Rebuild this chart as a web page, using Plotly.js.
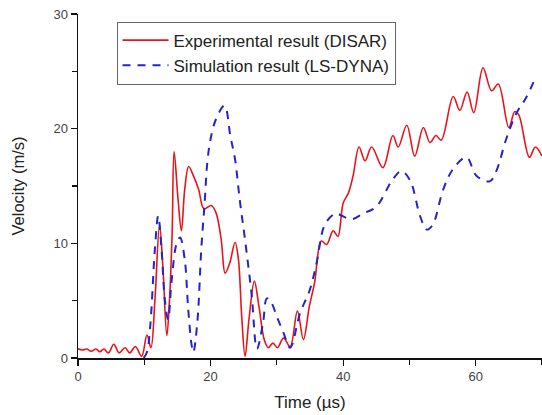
<!DOCTYPE html>
<html>
<head>
<meta charset="utf-8">
<script src="https://cdn.plot.ly/plotly-3.0.1.min.js"></script>
<style>html,body{margin:0;padding:0;background:#fff;}#chart{width:542px;height:415px;}</style>
</head>
<body>
<div id="chart"></div>
<script>
// Experimental result (DISAR)
var expTime = [0,0.7,1.3,2.0,2.7,3.3,3.9,4.6,5.4,6.2,7.1,7.8,8.65,9.6,10.4,11.0,11.6,12.3,12.8,13.4,13.8,14.2,14.5,15.1,15.6,16.1,16.7,17.4,18.2,19.0,20.1,20.8,21.6,22.2,22.9,23.7,24.2,24.7,25.2,25.8,26.6,27.3,28.1,28.7,29.4,30.1,31.0,32.0,33.1,34.0,34.9,35.7,36.7,37.5,38.5,39.2,40.0,40.8,41.5,42.4,43.3,44.3,46.0,47.5,48.3,49.6,50.8,52.1,53.1,54.0,54.8,56.6,57.6,58.7,59.7,61.1,62.4,63.4,65.0,65.9,66.5,68.1,69.0,70.0];
var expVel  = [0.8,0.7,0.78,0.6,0.78,0.55,0.78,0.45,1.2,0.45,0.9,0.45,1.0,0.15,2.0,0.9,5.0,11.6,8.0,1.95,5.0,10.9,18.0,13.8,11.1,14.7,16.7,15.9,14.7,13.0,13.3,12.7,10.35,7.4,8.3,10.1,8.6,3.6,0.15,3.4,6.7,4.5,1.6,0.9,1.3,0.9,1.75,1.0,4.1,1.6,4.5,6.6,10.2,9.9,11.1,10.6,13.5,14.4,15.9,18.4,17.2,18.4,16.6,19.4,18.4,20.3,17.6,20.1,18.8,19.4,19.0,22.8,21.6,23.2,21.4,25.3,23.3,23.9,20.1,21.5,21.2,17.5,18.4,17.6];

// Simulation result (LS-DYNA)
var simTime = [9.9,10.4,10.9,11.6,12.1,12.6,13.1,13.6,14.1,14.9,15.4,16.1,16.6,17.1,17.4,18.0,18.6,19.1,19.5,20.0,20.8,22.1,23.0,23.7,24.4,25.2,26.2,27.0,27.9,28.5,29.2,30.0,31.0,32.0,33.5,35.0,36.0,37.2,38.5,39.0,41.2,43.0,45.0,47.5,48.8,50.1,51.6,52.6,53.5,55.1,56.6,58.6,60.1,62.1,63.1,64.6,66.1,67.6,68.9];
var simVel  = [0,0.5,2.8,9.5,12.4,9.5,5.1,3.35,6.6,10.05,10.5,8.6,4.5,1.3,0.5,3.1,9.5,13.5,17.0,19.1,20.8,22.0,19.3,17.3,13.8,10.3,5.5,0.8,3.0,5.2,4.8,3.6,2.2,0.9,3.9,6.0,8.3,11.6,12.5,12.6,12.1,12.6,13.2,15.6,16.3,15.5,12.4,11.2,11.6,14.7,16.5,17.5,15.9,15.4,16.3,19.1,21.3,22.7,24.3];

var seriesNames = ['Experimental result (DISAR)', 'Simulation result (LS-DYNA)'];
var xTitle = 'Time (\u00b5s)';
var yTitle = 'Velocity (m/s)';

var traces = [
  {x: expTime, y: expVel, name: seriesNames[0], type: 'scatter', mode: 'lines',
   line: {color: '#e8141c', width: 1.6, shape: 'spline', smoothing: 1}},
  {x: simTime, y: simVel, name: seriesNames[1], type: 'scatter', mode: 'lines',
   line: {color: '#2424c8', width: 2, dash: '8px,7px', shape: 'spline', smoothing: 1}}
];

var fam = 'Liberation Sans, Arial, sans-serif';
var axisCommon = {
  showgrid: false, zeroline: false, showline: true, linecolor: '#111', linewidth: 1.5,
  ticks: 'outside', ticklen: 6, tickwidth: 1.2, tickcolor: '#111',
  tickfont: {family: fam, size: 13, color: '#444'}
};

var layout = {
  width: 542, height: 415,
  margin: {l: 78, r: 0, t: 14, b: 57},
  paper_bgcolor: '#fff', plot_bgcolor: '#fff',
  showlegend: true,
  legend: {x: 0.083, y: 0.978, xanchor: 'left', yanchor: 'top',
           bgcolor: '#fff', bordercolor: '#666', borderwidth: 1,
           itemwidth: 46,
           font: {family: fam, size: 17, color: '#222'},
           tracegroupgap: 0},
  xaxis: Object.assign({}, axisCommon, {
    range: [0, 70], dtick: 20, tick0: 0,
    minor: {dtick: 10, ticks: 'outside', ticklen: 5, tickcolor: '#111', tickwidth: 1.2},
    title: {text: xTitle, font: {family: fam, size: 17, color: '#222'}, standoff: 13}
  }),
  yaxis: Object.assign({}, axisCommon, {
    range: [0, 30], dtick: 10, tick0: 0,
    minor: {dtick: 5, ticks: 'outside', ticklen: 5, tickcolor: '#111', tickwidth: 1.2},
    title: {text: yTitle, font: {family: fam, size: 16.5, color: '#222'}, standoff: 24}
  })
};

Plotly.newPlot('chart', traces, layout, {displayModeBar: false, staticPlot: true});
</script>
</body>
</html>
